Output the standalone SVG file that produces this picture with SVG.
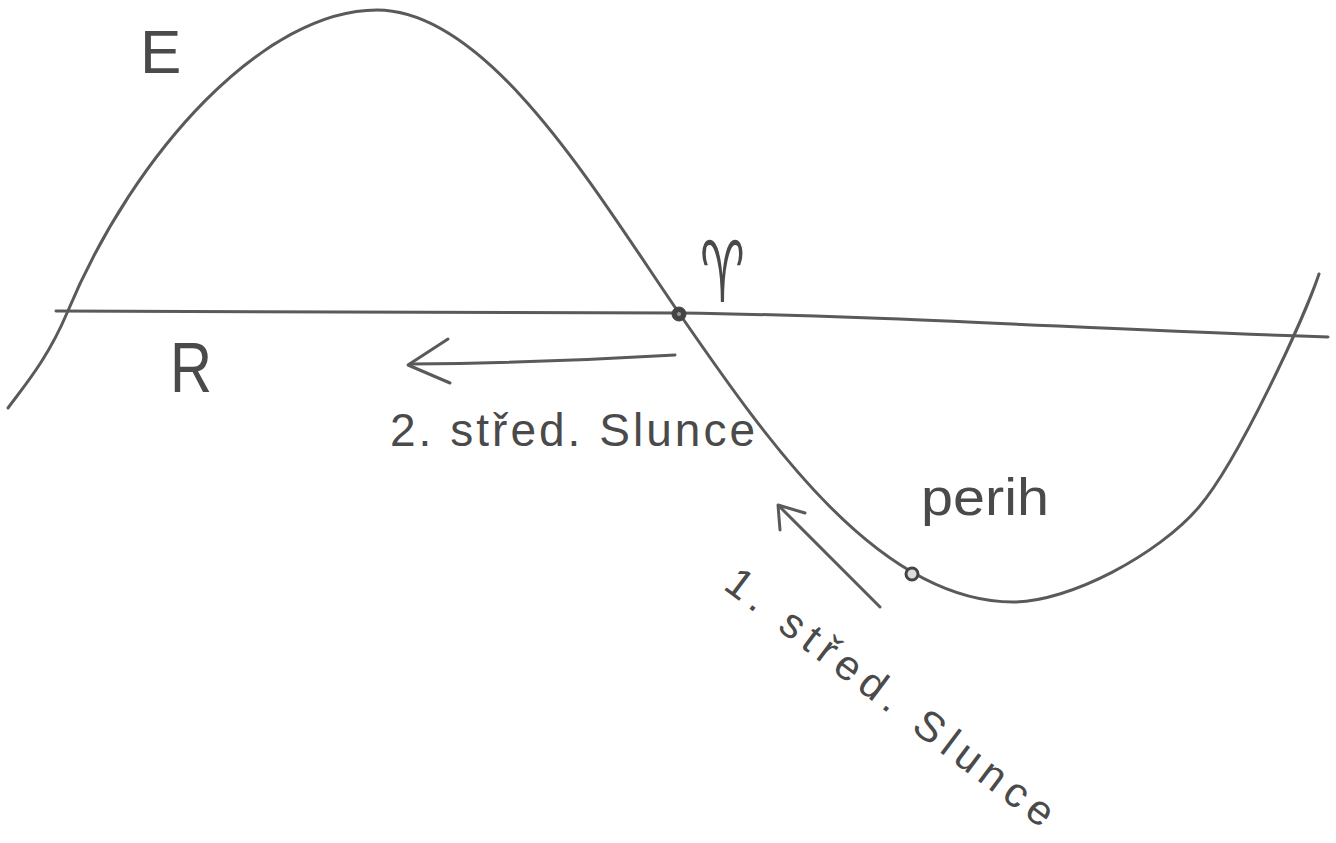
<svg xmlns="http://www.w3.org/2000/svg" width="1336" height="843" viewBox="0 0 1336 843">
<style>
.ln{fill:none;stroke:#5a5a5a;stroke-width:3;stroke-linecap:round;stroke-linejoin:round}
.lbl{font-family:"Liberation Sans",Arial,sans-serif;fill:#4a4a4a}
.dot{fill:#444;stroke:#444;stroke-width:1}
</style>
<rect width="1336" height="843" fill="#ffffff"/>
<g id="axis">
<path class="ln" d="M56,311 L680,313 C900,316 1100,330 1328,337"/>
</g>
<g id="curve">
<path class="ln" d="M8,408 C25,385 48,358 67,313 C135,150 265,10 377,10 C490,10 599,197 679,313 C770,445 880,602 1013,602 C1070,602 1159,554 1199,507 C1239,460 1305,316 1319,274"/>
</g>
<g id="label-E"><text class="lbl" x="140" y="73" font-size="62">E</text></g>
<g id="label-R"><text class="lbl" x="170" y="392" font-size="70" textLength="42" lengthAdjust="spacingAndGlyphs">R</text></g>
<g id="node-aries">
<circle class="dot" cx="679" cy="314" r="7"/>
<circle fill="#999" cx="679" cy="314" r="2"/>
<text transform="translate(700,302) scale(1,1.7)" font-size="50" font-family="'DejaVu Sans',sans-serif" fill="#4a4a4a">♈︎</text>
</g>
<g id="node-perih">
<circle cx="912" cy="574" r="6" fill="#ddd" stroke="#444" stroke-width="3"/>
<text class="lbl" x="921" y="515" font-size="52" textLength="128" lengthAdjust="spacingAndGlyphs">perih</text>
</g>
<g id="label-2"><text class="lbl" x="390" y="446" font-size="46" textLength="365" lengthAdjust="spacing">2. střed. Slunce</text></g>
<g id="label-1"><text class="lbl" transform="translate(722,588) rotate(37)" font-size="42" textLength="400" lengthAdjust="spacing">1. střed. Slunce</text></g>
<g id="connectors">
<path class="ln" d="M675,355 Q540,363 410,364"/>
<path class="ln" d="M448,339 L408,365 L450,383"/>
<path class="ln" d="M880,607 L779,506"/>
<path class="ln" d="M780,530 L778,505 L805,513"/>
</g>
</svg>
